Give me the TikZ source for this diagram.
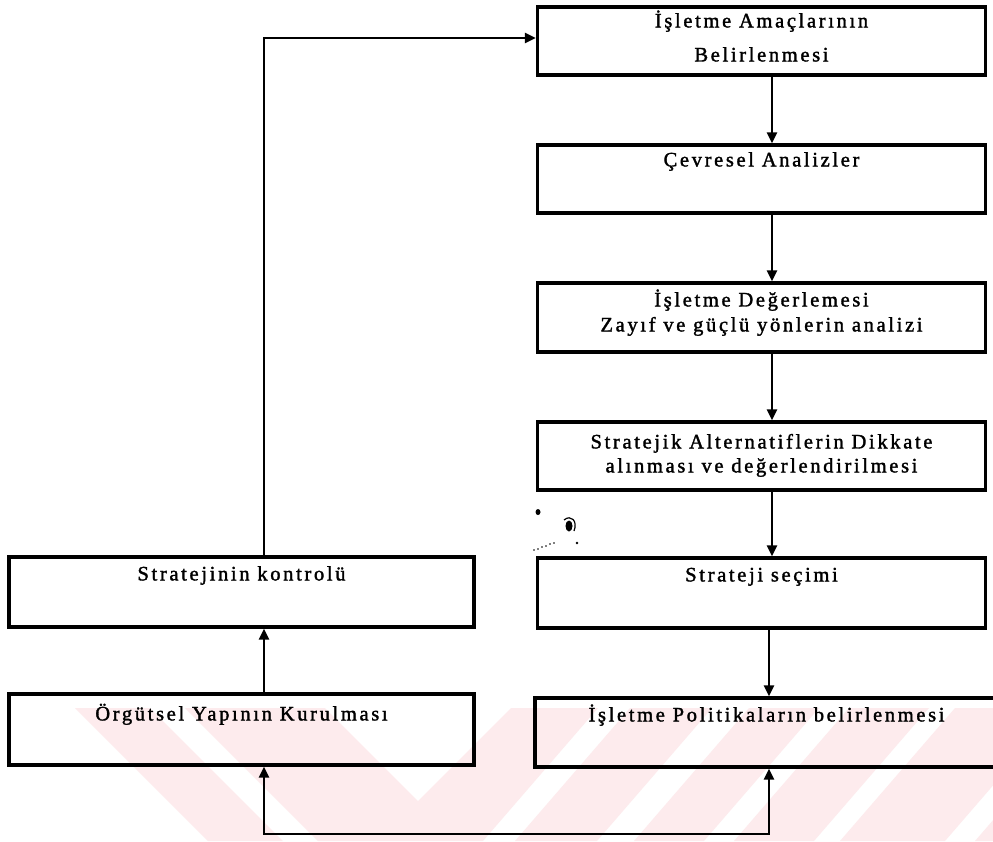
\documentclass[tikz,border=0pt]{standalone}
\usepackage{fontspec}
\setmainfont{Liberation Serif}[LetterSpace=13, FakeBold=1.6]
\usetikzlibrary{arrows.meta}
\definecolor{wmpink}{RGB}{253,235,237}

\begin{document}
\begin{tikzpicture}[x=1pt,y=-1pt,
  box/.style={draw=black, line width=3.2pt, inner sep=0pt},
  lbl/.style={anchor=base, inner sep=0pt, font=\fontsize{20.5}{24}\selectfont},
  link/.style={line width=2.5pt, line join=miter, -{Triangle[length=11pt,width=10pt]}},
  link2/.style={line width=2.5pt, line join=miter, {Triangle[length=11pt,width=10pt]}-{Triangle[length=11pt,width=10pt]}}
]
\clip (0,0) rectangle (993,841);
\fill[white] (0,0) rectangle (993,841);

% faint striped emblem behind the lower row
\fill[wmpink] (75,708) -- (150,708) -- (283,841) -- (208,841) -- cycle;
\fill[wmpink] (185,708) -- (325,708) -- (418,801) -- (511,708) -- (598,708) -- (483,841) -- (318,841) -- cycle;
\fill[wmpink] (630,708) -- (712,708) -- (597,841) -- (515,841) -- cycle;
\fill[wmpink] (749,708) -- (819,708) -- (704,841) -- (634,841) -- cycle;
\fill[wmpink] (849,708) -- (929,708) -- (814,841) -- (734,841) -- cycle;
\fill[wmpink] (955,708) -- (1060,708) -- (945,841) -- (840,841) -- cycle;
\fill[wmpink] (1090,708) -- (1200,708) -- (1085,841) -- (975,841) -- cycle;

% right column
\node[box, minimum width=448pt, minimum height=68pt] (b1) at (761.5,41) {};
\node[box, minimum width=448pt, minimum height=68pt] (b2) at (761.5,179) {};
\node[box, minimum width=448pt, minimum height=69pt] (b3) at (761.5,317.5) {};
\node[box, minimum width=448pt, minimum height=68pt] (b4) at (761.5,456) {};
\node[box, minimum width=448pt, minimum height=70pt] (b5) at (761.5,593) {};
\node[box, minimum width=463pt, minimum height=69pt] (b6) at (766.5,732.5) {};
% left column
\node[box, minimum width=465pt, minimum height=70pt] (l1) at (241.5,592) {};
\node[box, minimum width=465pt, minimum height=71pt] (l2) at (241.5,729.5) {};

% labels
\node[lbl] (t1a) at ([yshift=-22pt]b1.north) {İşletme Amaçlarının};
\node[lbl] (t1b) at ([yshift=-56pt]b1.north) {Belirlenmesi};
\node[lbl] (t2) at ([yshift=-23pt]b2.north) {Çevresel Analizler};
\node[lbl] (t3a) at ([yshift=-25pt]b3.north) {İşletme Değerlemesi};
\node[lbl] (t3b) at ([yshift=-50pt]b3.north) {Zayıf ve güçlü yönlerin analizi};
\node[lbl] (t4a) at ([yshift=-28pt]b4.north) {Stratejik Alternatiflerin Dikkate};
\node[lbl] (t4b) at ([yshift=-52pt]b4.north) {alınması ve değerlendirilmesi};
\node[lbl] (t5) at ([yshift=-25pt]b5.north) {Strateji seçimi};
\node[lbl] (t6) at ([yshift=-25pt]b6.north) {İşletme Politikaların belirlenmesi};
\node[lbl] (tl1) at ([yshift=-25pt]l1.north) {Stratejinin kontrolü};
\node[lbl] (tl2) at ([yshift=-28pt]l2.north) {Örgütsel Yapının Kurulması};

% connector columns
\coordinate (cR) at (772,0);
\coordinate (cR6) at (769,0);
\coordinate (cL) at (264,0);
\coordinate (cB) at (0,834);

\draw[link] (b1.south -| cR) -- (b2.north -| cR);
\draw[link] (b2.south -| cR) -- (b3.north -| cR);
\draw[link] (b3.south -| cR) -- (b4.north -| cR);
\draw[link] (b4.south -| cR) -- (b5.north -| cR);
\draw[link] (b5.south -| cR6) -- (b6.north -| cR6);
\draw[link] (l2.north -| cL) -- (l1.south -| cL);
\draw[link] (l1.north -| cL) |- ([yshift=3pt]b1.west);
\draw[link2] (l2.south -| cL) -- (cL |- cB) -- (cR6 |- cB) -- (b6.south -| cR6);

% specks
\fill (538,512) ellipse (2.5pt and 3pt);
\fill (569,526) ellipse (3.5pt and 5.5pt);
\draw[line width=1.2pt] (564,520) .. controls (571,514) and (578,521) .. (574,531);
\foreach \p in {(534,550),(538,549),(542,547),(546,546),(550,544),(554,543)}
  \fill \p circle (0.9pt);
\fill (577,543) circle (1.3pt);
\end{tikzpicture}
\end{document}
